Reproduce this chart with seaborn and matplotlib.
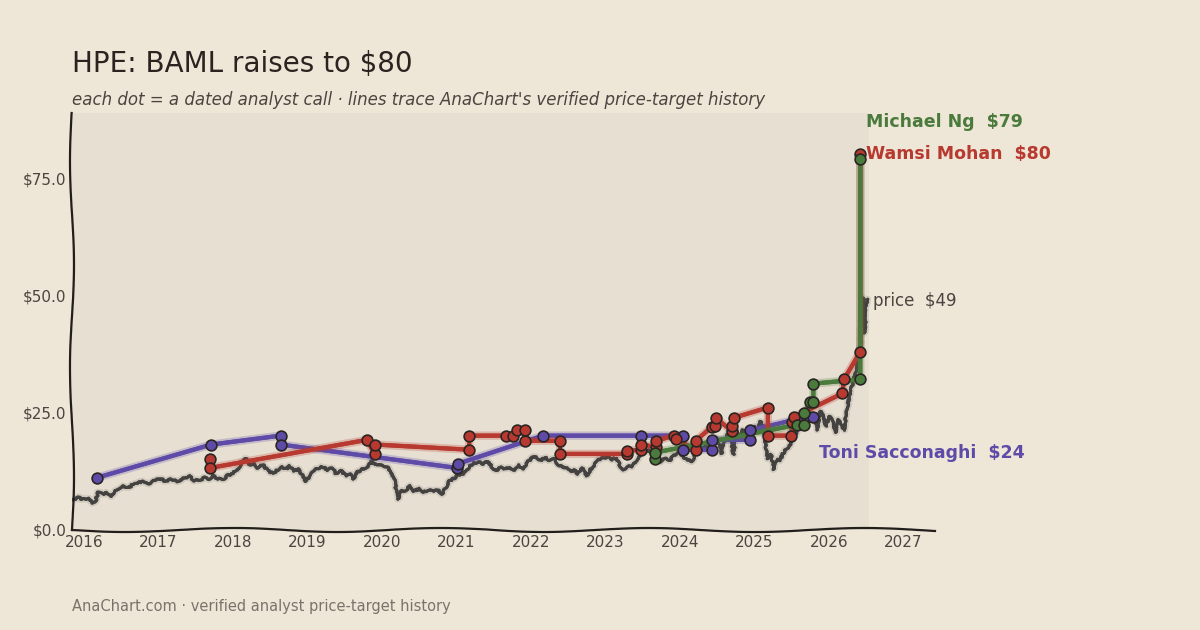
import numpy as np
import pandas as pd
import matplotlib
matplotlib.use("Agg")
import matplotlib.pyplot as plt
import seaborn as sns
from matplotlib import patheffects as pe

# ---------------- data ----------------
price_years = [
    2015.84, 2015.92, 2016.00, 2016.06, 2016.12, 2016.16, 2016.19, 2016.25, 2016.30, 2016.35,
    2016.42, 2016.52, 2016.60, 2016.68, 2016.79, 2016.88, 2016.95, 2017.02, 2017.10, 2017.18,
    2017.25, 2017.33, 2017.42, 2017.48, 2017.55, 2017.62, 2017.68, 2017.73, 2017.80, 2017.86,
    2017.93, 2017.98, 2018.04, 2018.09, 2018.13, 2018.18, 2018.22, 2018.28, 2018.33, 2018.40,
    2018.47, 2018.54, 2018.60, 2018.66, 2018.72, 2018.76, 2018.82, 2018.88, 2018.94, 2018.98,
    2019.03, 2019.08, 2019.12, 2019.20, 2019.27, 2019.33, 2019.38, 2019.45, 2019.52, 2019.58,
    2019.61, 2019.67, 2019.74, 2019.80, 2019.86, 2019.90, 2019.96, 2020.02, 2020.08, 2020.13,
    2020.17, 2020.20, 2020.22, 2020.26, 2020.32, 2020.38, 2020.43, 2020.50, 2020.56, 2020.62,
    2020.68, 2020.74, 2020.81, 2020.86, 2020.90, 2020.96, 2021.02, 2021.08, 2021.14, 2021.22,
    2021.30, 2021.36, 2021.42, 2021.48, 2021.53, 2021.60, 2021.66, 2021.71, 2021.78, 2021.84,
    2021.89, 2021.95, 2022.02, 2022.07, 2022.13, 2022.19, 2022.24, 2022.30, 2022.36, 2022.42,
    2022.48, 2022.53, 2022.58, 2022.63, 2022.69, 2022.75, 2022.80, 2022.86, 2022.91, 2022.97,
    2023.03, 2023.09, 2023.14, 2023.20, 2023.24, 2023.30, 2023.35, 2023.40, 2023.46, 2023.52,
    2023.58, 2023.63, 2023.68, 2023.74, 2023.80, 2023.86, 2023.92, 2023.98, 2024.04, 2024.10,
    2024.16, 2024.22, 2024.28, 2024.34, 2024.40, 2024.45, 2024.49, 2024.53, 2024.56, 2024.60,
    2024.64, 2024.68, 2024.72, 2024.76, 2024.80, 2024.84, 2024.88, 2024.92, 2024.96, 2025.00,
    2025.04, 2025.08, 2025.12, 2025.15, 2025.18, 2025.22, 2025.26, 2025.30, 2025.34, 2025.38,
    2025.43, 2025.47, 2025.52, 2025.57, 2025.62, 2025.67, 2025.72, 2025.76, 2025.80, 2025.84,
    2025.88, 2025.92, 2025.96, 2026.00, 2026.05, 2026.09, 2026.13, 2026.17, 2026.20, 2026.24,
    2026.28, 2026.32, 2026.36, 2026.39, 2026.42, 2026.44, 2026.46, 2026.48, 2026.50, 2026.52,
]
price_values = [
    6.4, 6.9, 6.5, 6.9, 5.8, 6.3, 8.0, 7.6, 8.0, 7.1,
    8.3, 9.4, 9.0, 10.0, 10.3, 9.9, 10.6, 10.9, 10.4, 10.8,
    10.3, 11.0, 11.4, 10.5, 10.6, 11.1, 10.8, 11.5, 10.9, 10.7,
    11.6, 11.9, 12.6, 13.5, 14.8, 15.2, 13.8, 14.3, 13.2, 13.9,
    12.6, 12.1, 12.8, 13.4, 13.0, 13.6, 12.6, 12.9, 11.4, 10.4,
    11.5, 12.4, 13.0, 13.5, 12.8, 13.3, 12.1, 12.6, 11.5, 11.8,
    10.8, 12.3, 13.0, 13.4, 14.6, 13.9, 14.1, 13.6, 13.2, 11.7,
    10.5, 7.4, 6.6, 8.2, 8.5, 9.3, 8.3, 8.7, 8.1, 8.5,
    8.3, 8.6, 7.7, 9.1, 10.3, 10.9, 11.7, 11.9, 12.9, 14.2,
    14.4, 14.1, 14.6, 13.4, 12.6, 13.4, 12.9, 13.4, 12.7, 13.8,
    12.9, 14.4, 15.4, 15.6, 14.8, 15.4, 14.9, 15.3, 14.0, 13.5,
    13.1, 12.4, 12.7, 12.0, 13.1, 11.6, 12.9, 14.0, 15.0, 15.3,
    15.6, 15.0, 15.4, 13.6, 12.9, 13.6, 13.3, 14.6, 15.6, 16.4,
    17.1, 16.3, 15.5, 14.5, 15.2, 14.8, 15.9, 16.6, 15.7, 14.9,
    14.6, 16.6, 17.3, 17.9, 17.4, 18.6, 19.6, 18.3, 16.3, 18.9,
    20.6, 19.3, 16.1, 21.2, 19.8, 21.3, 20.6, 21.4, 20.7, 22.1,
    21.3, 23.1, 21.9, 18.0, 15.2, 16.0, 12.9, 15.1, 14.7, 16.2,
    17.4, 17.8, 19.6, 21.0, 21.8, 22.9, 23.5, 24.9, 24.1, 21.3,
    25.3, 24.5, 22.1, 24.2, 23.4, 20.8, 23.5, 22.4, 21.2, 25.6,
    29.0, 31.2, 34.1, 36.4, 40.0, 45.5, 49.5, 42.0, 47.5, 49.2,
]

toni_years = [2016.17, 2017.71, 2018.64, 2018.64, 2021.01, 2021.02, 2022.16, 2023.48,
              2024.04, 2024.04, 2024.43, 2024.43, 2024.94, 2024.94, 2025.70, 2025.79]
toni_targets = [11.1, 18.2, 20.1, 18.2, 13.2, 14.1, 20.1, 20.1,
                20.1, 17.1, 17.1, 19.2, 19.2, 21.2, 24.1, 24.1]

wamsi_years = [2017.69, 2017.69, 2019.80, 2019.90, 2019.91, 2021.17, 2021.17, 2021.67,
               2021.76, 2021.81, 2021.92, 2021.92, 2022.39, 2022.39, 2023.29, 2023.29,
               2023.48, 2023.48, 2023.68, 2023.68, 2023.92, 2023.94, 2024.21, 2024.21,
               2024.43, 2024.47, 2024.48, 2024.70, 2024.70, 2024.72, 2025.18, 2025.18,
               2025.49, 2025.51, 2025.53, 2026.18, 2026.20, 2026.42, 2026.42]
wamsi_targets = [15.2, 13.2, 19.2, 16.2, 18.2, 17.1, 20.1, 20.1,
                 20.1, 21.4, 21.2, 19.0, 19.0, 16.2, 16.2, 16.9,
                 17.1, 18.2, 17.7, 19.0, 20.1, 19.4, 17.1, 19.0,
                 22.0, 22.2, 23.9, 21.0, 22.2, 23.9, 26.1, 20.1,
                 20.1, 23.1, 24.1, 29.1, 32.1, 38.0, 80.1]

michael_years = [2023.67, 2023.67, 2025.57, 2025.67, 2025.67, 2025.75, 2025.79, 2025.79,
                 2026.42, 2026.42]
michael_targets = [15.2, 16.5, 22.4, 22.4, 24.9, 27.2, 27.2, 31.2, 32.1, 79.1]

analysts = ["Toni Sacconaghi", "Wamsi Mohan", "Michael Ng"]
final_targets = [24, 80, 79]
last_price = 49
year_ticks = list(range(2016, 2028))
y_ticks = [0, 25, 50, 75]

# ---------------- styling ----------------
BG = "#EEE6D6"
PLOT_BG = "#E7E0D2"
COLORS = {"Toni Sacconaghi": "#5E4BA8", "Wamsi Mohan": "#B7392F", "Michael Ng": "#4A7A3C"}
PRICE_C = "#444240"
TEXT_C = "#4A4540"

sns.set_theme(style="white")
plt.rcParams['font.family'] = ['DejaVu Sans']

frames = []
for name, ys, ts in [("Toni Sacconaghi", toni_years, toni_targets),
                     ("Wamsi Mohan", wamsi_years, wamsi_targets),
                     ("Michael Ng", michael_years, michael_targets)]:
    frames.append(pd.DataFrame({"analyst": name, "year": ys, "target": ts}))
calls = pd.concat(frames, ignore_index=True)
price = pd.DataFrame({"year": price_years, "price": price_values})

fig = plt.figure(figsize=(12, 6.3), dpi=100, facecolor=BG)
ax = fig.add_axes([0.06, 0.159, 0.719, 0.662])
ax.set_facecolor(BG)
ax.axvspan(2015.84, 2026.54, color=PLOT_BG, zorder=0, lw=0)

# price
sns.lineplot(data=price, x="year", y="price", ax=ax, color=PRICE_C, lw=2.2,
             sort=False, estimator=None, zorder=2)
pl = ax.lines[-1]
pl.set_sketch_params(scale=0.8, length=6, randomness=20)
pl.set_path_effects([pe.withStroke(linewidth=5, foreground="#B5AFA5", alpha=0.45), pe.Normal()])

# analyst lines
for name in analysts:
    sub = calls[calls["analyst"] == name]
    n0 = len(ax.lines)
    sns.lineplot(data=sub, x="year", y="target", ax=ax, color=COLORS[name], lw=3.0,
                 sort=False, estimator=None, zorder=3)
    for ln in ax.lines[n0:]:
        ln.set_path_effects([pe.withStroke(linewidth=6, foreground=COLORS[name], alpha=0.25),
                             pe.Normal()])
        ln.set_solid_capstyle("round")
        ln.set_solid_joinstyle("round")

for name in analysts:
    sub = calls[calls["analyst"] == name]
    sns.scatterplot(data=sub, x="year", y="target", ax=ax, color=COLORS[name], s=60,
                    edgecolor="#2A2523", linewidth=1.2, zorder=5, legend=False)

# axes
ax.set_xlim(2015.84, 2027.42)
ax.set_ylim(0, 89)
ax.set_xticks(year_ticks)
ax.set_xticklabels([str(y) for y in year_ticks])
ax.set_yticks(y_ticks)
ax.set_yticklabels([f"${v:.1f}" for v in y_ticks])
ax.tick_params(axis="both", length=0, labelsize=11, colors=TEXT_C, pad=4)
ax.set_xlabel("")
ax.set_ylabel("")
for s in ["top", "right"]:
    ax.spines[s].set_visible(False)
for s in ["left", "bottom"]:
    ax.spines[s].set_color("#221E1C")
    ax.spines[s].set_linewidth(1.6)
    ax.spines[s].set_sketch_params(scale=2.0, length=220, randomness=1.5)
ax.grid(False)

# end labels
ax.text(2026.49, 87.0, f"Michael Ng  ${final_targets[2]}", color=COLORS["Michael Ng"],
        fontsize=12.5, fontweight="bold", va="center", ha="left", clip_on=False)
ax.text(2026.49, 80.1, f"Wamsi Mohan  ${final_targets[1]}", color=COLORS["Wamsi Mohan"],
        fontsize=12.5, fontweight="bold", va="center", ha="left", clip_on=False)
ax.text(2026.59, 48.9, f"price  ${last_price}", color=TEXT_C,
        fontsize=12, va="center", ha="left", clip_on=False)
ax.text(2025.86, 16.5, f"Toni Sacconaghi  ${final_targets[0]}", color=COLORS["Toni Sacconaghi"],
        fontsize=12.5, fontweight="bold", va="center", ha="left", clip_on=False)

# titles
fig.text(0.06, 0.899, "HPE: BAML raises to $80", fontsize=20, color="#2A2320",
         ha="left", va="center")
fig.text(0.06, 0.841, "each dot = a dated analyst call · lines trace AnaChart's verified price-target history",
         fontsize=12, style="italic", color=TEXT_C, ha="left", va="center")
fig.text(0.06, 0.038, "AnaChart.com · verified analyst price-target history",
         fontsize=10.5, color="#7A736B", ha="left", va="center")

fig.savefig("out.png", dpi=100, facecolor=BG)
